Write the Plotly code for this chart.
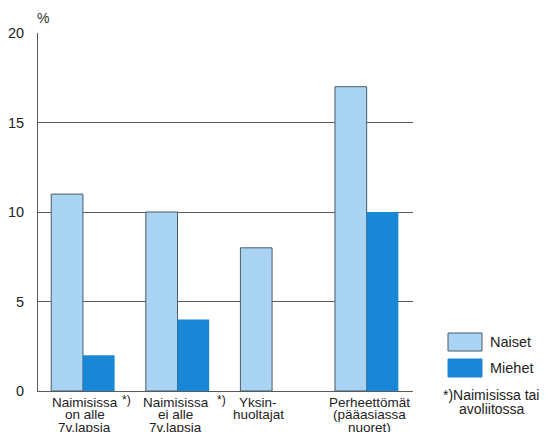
import plotly.graph_objects as go

categories = ["Naimisissa on alle 7v.lapsia", "Naimisissa ei alle 7v.lapsia",
              "Yksinhuoltajat", "Perheettömät (pääasiassa nuoret)"]
label_lines = [["Naimisissa", "on alle", "7v.lapsia"],
               ["Naimisissa", "ei alle", "7v.lapsia"],
               ["Yksin-", "huoltajat"],
               ["Perheettömät", "(pääasiassa", "nuoret)"]]
star_marks = ["*)", "*)", "", ""]
naiset = [11, 10, 8, 17]
miehet = [2, 4, None, 10]
y_ticks = [0, 5, 10, 15, 20]
series_names = ["Naiset", "Miehet"]
note_lines = ["*)Naimisissa tai", "avoliitossa"]

C_NAI = "#a9d4f3"
C_MIE = "#1a86d6"
GRID = "#5a5a5a"
FONT = "Liberation Sans, Arial, sans-serif"

x = list(range(len(categories)))
fig = go.Figure()
fig.add_trace(go.Bar(x=x, y=naiset, name=series_names[0], marker=dict(color=C_NAI, line=dict(color="#4a5a66", width=1))))
fig.add_trace(go.Bar(x=x, y=miehet, name=series_names[1], marker=dict(color=C_MIE, line=dict(color=C_MIE, width=0))))

ann = []
shifts = [-11, -23.5, -36]
xoff = [2, -2, -14, 3]
for i, lines in enumerate(label_lines):
    for j, t in enumerate(lines):
        ann.append(dict(x=i, y=0, xref="x", yref="paper", text=t, showarrow=False,
                        xanchor="center", yanchor="middle", yshift=shifts[j], xshift=xoff[i],
                        borderpad=0,
                        font=dict(family=FONT, size=13.5, color="#222")))
    if star_marks[i]:
        ann.append(dict(x=i, y=0, xref="x", yref="paper", text=star_marks[i], showarrow=False,
                        xanchor="center", yanchor="middle", yshift=-9, xshift=44,
                        font=dict(family=FONT, size=12, color="#222")))

ann.append(dict(x=0, y=1, xref="paper", yref="paper", text="%", showarrow=False,
                xanchor="left", yanchor="bottom", xshift=-3, yshift=5,
                font=dict(family=FONT, size=14, color="#333")))

# custom legend (positions in window pixels -> paper coords of plot area 38..413 x 33..391)
shapes = []
leg = [(series_names[0], C_NAI, "#4a5a66", 342), (series_names[1], C_MIE, C_MIE, 368)]
def py(p):
    return (391 - p) / 358
def px(p):
    return (p - 38) / 375
for name, col, lc, cy in leg:
    shapes.append(dict(type="rect", xref="paper", yref="paper", x0=px(448), x1=px(482),
                       y0=py(cy + 9), y1=py(cy - 9), fillcolor=col, line=dict(color=lc, width=1)))
    ann.append(dict(x=px(488), y=py(cy), xref="paper", yref="paper", text=name, showarrow=False,
                    xanchor="left", yanchor="middle", font=dict(family=FONT, size=14.5, color="#222")))
ann.append(dict(x=px(441), y=py(395), xref="paper", yref="paper", text=note_lines[0], showarrow=False,
                xanchor="left", yanchor="middle", font=dict(family=FONT, size=14, color="#222")))
ann.append(dict(x=px(457), y=py(409), xref="paper", yref="paper", text=note_lines[1], showarrow=False,
                xanchor="left", yanchor="middle", font=dict(family=FONT, size=14, color="#222")))

# page body has an 8px margin, so the figure is 8px smaller and margins compensate
fig.update_layout(
    width=546, height=424,
    margin=dict(l=30, r=141, t=25, b=41),
    paper_bgcolor="white", plot_bgcolor="white",
    barmode="group", bargap=0.33, bargroupgap=0,
    showlegend=False,
    annotations=ann, shapes=shapes,
    font=dict(family=FONT, color="#222"),
)
fig.update_xaxes(range=[-0.475, 3.49], showticklabels=False, ticks="", showgrid=False,
                 showline=True, linecolor=GRID, linewidth=1, zeroline=False, automargin=False)
fig.update_yaxes(range=[0, 20], tickvals=y_ticks, showgrid=True, gridcolor=GRID, gridwidth=1,
                 showline=True, linecolor=GRID, linewidth=1, zeroline=False, ticks="",
                 automargin=False,
                 ticklabelstandoff=10, tickfont=dict(family=FONT, size=14.5, color="#222"))

fig.write_html("out.html")
